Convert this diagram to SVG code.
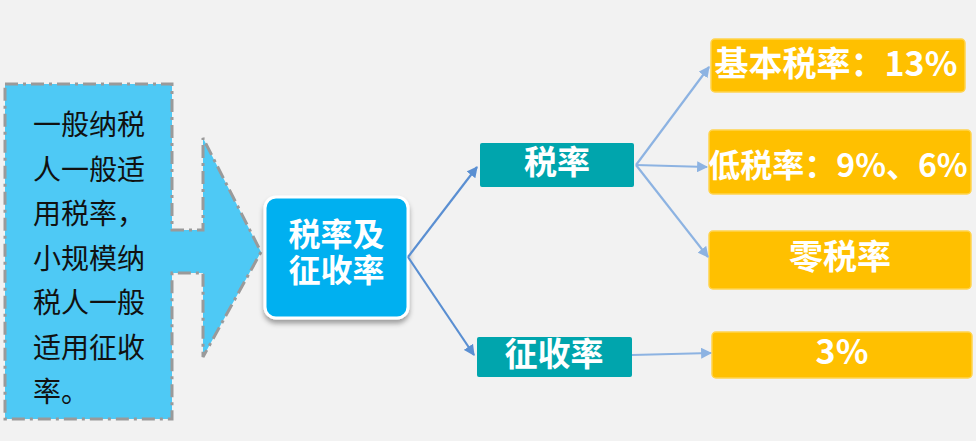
<svg xmlns="http://www.w3.org/2000/svg" width="976" height="441" viewBox="0 0 976 441">
<style>
.cjk{font-family:"Noto Sans CJK SC","Noto Sans",sans-serif}
.lt{font-size:28px;fill:#111}
.wb{font-weight:bold;fill:#fff;text-anchor:middle}
.teal{fill:#00a5ad}
.yel{fill:#ffc000;stroke:#ffd34d;stroke-width:1.5}
.c1{stroke:#5a8fd2;stroke-width:2.2;fill:none;marker-end:url(#a1)}
.c2{stroke:#8db3e2;stroke-width:2.2;fill:none;marker-end:url(#a2)}
</style>
<defs>
<marker id="a1" viewBox="0 0 10 10" refX="9" refY="5" markerWidth="5" markerHeight="5" orient="auto"><path d="M0,0 L10,5 L0,10 Z" fill="#5a8fd2"/></marker>
<marker id="a2" viewBox="0 0 10 10" refX="9" refY="5" markerWidth="5" markerHeight="5" orient="auto"><path d="M0,0 L10,5 L0,10 Z" fill="#8db3e2"/></marker>
<filter id="sh" x="-20%" y="-20%" width="140%" height="150%"><feDropShadow dx="0" dy="4" stdDeviation="2.5" flood-color="#000" flood-opacity="0.35"/></filter>
</defs>
<rect width="976" height="441" fill="#f2f2f2"/>
<g id="left">
<path d="M5,84 H172 V230 H203 V138 L261,252 L203,357 V273 H172 V419 H5 Z" fill="#4ec9f5" stroke="#9a9a9a" stroke-width="3" stroke-dasharray="13 5 3 5"/>
<text class="cjk lt" x="33" y="135">一般纳税</text>
<text class="cjk lt" x="33" y="179.5">人一般适</text>
<text class="cjk lt" x="33" y="224">用税率，</text>
<text class="cjk lt" x="33" y="268.5">小规模纳</text>
<text class="cjk lt" x="33" y="313">税人一般</text>
<text class="cjk lt" x="33" y="357.5">适用征收</text>
<text class="cjk lt" x="33" y="402">率。</text>
</g>
<g id="center">
<rect x="265" y="197" width="143" height="121" rx="11" fill="#00b0f0" stroke="#fff" stroke-width="3" filter="url(#sh)"/>
<text class="cjk wb" font-size="32"><tspan x="336.5" y="246">税率及</tspan><tspan x="336.5" y="282">征收率</tspan></text>
</g>
<g id="shuilv">
<rect class="teal" x="480" y="143" width="154" height="44" rx="2"/>
<text class="cjk wb" x="557" y="174" font-size="33">税率</text>
</g>
<g id="zhengshoulv">
<rect class="teal" x="477" y="337" width="155" height="40" rx="2"/>
<text class="cjk wb" x="554" y="366" font-size="33">征收率</text>
</g>
<g id="y1">
<rect class="yel" x="711" y="39" width="254" height="53" rx="4"/>
<text class="cjk wb" x="836" y="76" font-size="34">基本税率：13%</text>
</g>
<g id="y2">
<rect class="yel" x="709" y="130" width="262" height="64" rx="4"/>
<text class="cjk wb" x="838" y="177" font-size="32">低税率：9%、6%</text>
</g>
<g id="y3">
<rect class="yel" x="709" y="231" width="262" height="58" rx="4"/>
<text class="cjk wb" x="840" y="269" font-size="34">零税率</text>
</g>
<g id="y4">
<rect class="yel" x="712" y="332" width="260" height="46" rx="4"/>
<text class="cjk wb" x="842" y="364" font-size="34">3%</text>
</g>
<g id="connectors">
<path class="c1" d="M408,257 L477,167"/>
<path class="c1" d="M408,257 L474,355"/>
<path class="c2" d="M636,165 L709,67"/>
<path class="c2" d="M636,165 L707,167"/>
<path class="c2" d="M636,165 L708,257"/>
<path class="c2" d="M632,355 L711,353"/>
</g>
</svg>
